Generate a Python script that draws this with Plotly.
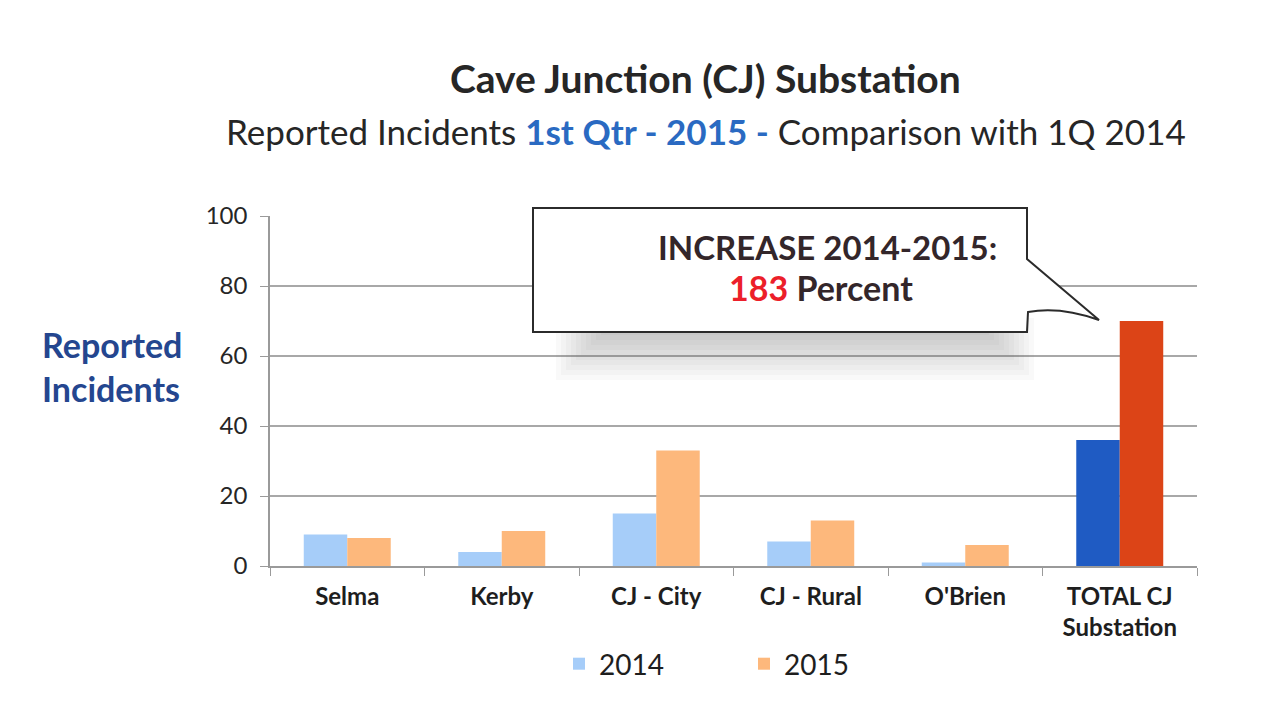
import plotly.graph_objects as go

categories = ["Selma", "Kerby", "CJ - City", "CJ - Rural", "O'Brien", "TOTAL CJ<br>Substation"]
values_2014 = [9, 4, 15, 7, 1, 36]
values_2015 = [8, 10, 33, 13, 6, 70]
y_ticks = [0, 20, 40, 60, 80, 100]

light_blue = "#a6cdf9"
light_orange = "#fdb87c"
dark_blue = "#1f5bc3"
dark_red = "#dc4417"

FONT = "Lato"

fig = go.Figure()
fig.add_trace(go.Bar(
    x=categories, y=values_2014, name="2014",
    marker=dict(color=[light_blue] * 5 + [dark_blue], line=dict(width=0)),
))
fig.add_trace(go.Bar(
    x=categories, y=values_2015, name="2015",
    marker=dict(color=[light_orange] * 5 + [dark_red], line=dict(width=0)),
))

OFF = 8  # page body margin
W, H = 1261 - OFF, 711 - OFF
# plot area in screenshot pixels
L, R, T, B = 270, 1197, 216, 566
def px(x):
    return (x - L) / (R - L)
def py(y):
    return (B - y) / (B - T)

shapes = []
# callout shadow (soft)
for i in range(10):
    shapes.append(dict(type="rect", xref="paper", yref="paper",
                       x0=px(556 + i * 5), x1=px(1034 - i * 5), y0=py(380 - i * 5), y1=py(318),
                       line=dict(width=0), fillcolor="rgba(90,90,90,0.035)", layer="above"))
# callout box with tail
bx0, bx1, by0, by1 = 533, 1027, 208, 332
path = (f"M {px(bx0)} {py(by0)} L {px(bx1)} {py(by0)} L {px(bx1)} {py(259)} "
        f"L {px(1099)} {py(320)} Q {px(1060)} {py(306)} {px(1028)} {py(312)} "
        f"L {px(bx1)} {py(by1)} L {px(bx0)} {py(by1)} Z")
shapes.append(dict(type="path", xref="paper", yref="paper", path=path,
                   line=dict(color="#2b2b2b", width=2), fillcolor="white", layer="above"))

annotations = [
    dict(text="<b>Cave Junction (CJ) Substation</b>", xref="paper", yref="paper",
         x=px(705), y=py(78), showarrow=False, xanchor="center", yanchor="middle",
         font=dict(family=FONT, size=39, color="#262626")),
    dict(text="Reported Incidents <b><span style='color:#2a6ac2'>1st Qtr - 2015 -</span></b> Comparison with 1Q 2014",
         xref="paper", yref="paper", x=px(706), y=py(131), showarrow=False,
         xanchor="center", yanchor="middle", font=dict(family=FONT, size=35, color="#262626")),
    dict(text="<b>Reported<br>Incidents</b>", xref="paper", yref="paper",
         x=px(40), y=py(366), showarrow=False, xanchor="left", yanchor="middle",
         align="left", font=dict(family=FONT, size=34, color="#24468f")),
    dict(text="<b>INCREASE 2014-2015:</b>", xref="paper", yref="paper",
         x=px(827), y=py(247), showarrow=False, xanchor="center", yanchor="middle",
         font=dict(family=FONT, size=33, color="#33262a")),
    dict(text="<b><span style='color:#ec1f2a'>183</span> Percent</b>", xref="paper", yref="paper",
         x=px(821), y=py(287), showarrow=False, xanchor="center", yanchor="middle",
         font=dict(family=FONT, size=34, color="#33262a")),
]

fig.update_layout(
    width=W, height=H,
    margin=dict(l=L - OFF, r=W - (R - OFF), t=T - OFF, b=H - (B - OFF), autoexpand=False),
    paper_bgcolor="white", plot_bgcolor="white",
    barmode="group", bargap=0.437, bargroupgap=0,
    showlegend=True,
    legend=dict(orientation="h", x=px(559), xanchor="left", y=py(664), yanchor="middle",
                font=dict(family=FONT, size=28, color="#1e1e1e"), itemwidth=30,
                traceorder="normal", entrywidthmode="pixels", entrywidth=140),
    xaxis=dict(type="category", tickson="boundaries", ticks="outside", ticklen=8,
               tickcolor="#9a9a9a", showline=True, linecolor="#9a9a9a", linewidth=1.5,
               showgrid=False, tickfont=dict(family=FONT, size=24, color="#1e1e1e"),
               ticklabelstandoff=8,
               tickprefix="<b>", ticksuffix="</b>"),
    yaxis=dict(range=[0, 100], tickvals=y_ticks, showgrid=True, gridcolor="#a8a8a8",
               gridwidth=1.5, showline=True, linecolor="#9a9a9a", linewidth=1.5,
               ticks="outside", ticklen=8, tickcolor="#9a9a9a", zeroline=False,
               ticklabelstandoff=8,
               tickfont=dict(family=FONT, size=24, color="#262626")),
    shapes=shapes,
    annotations=annotations,
)

fig.write_html("out.html")
